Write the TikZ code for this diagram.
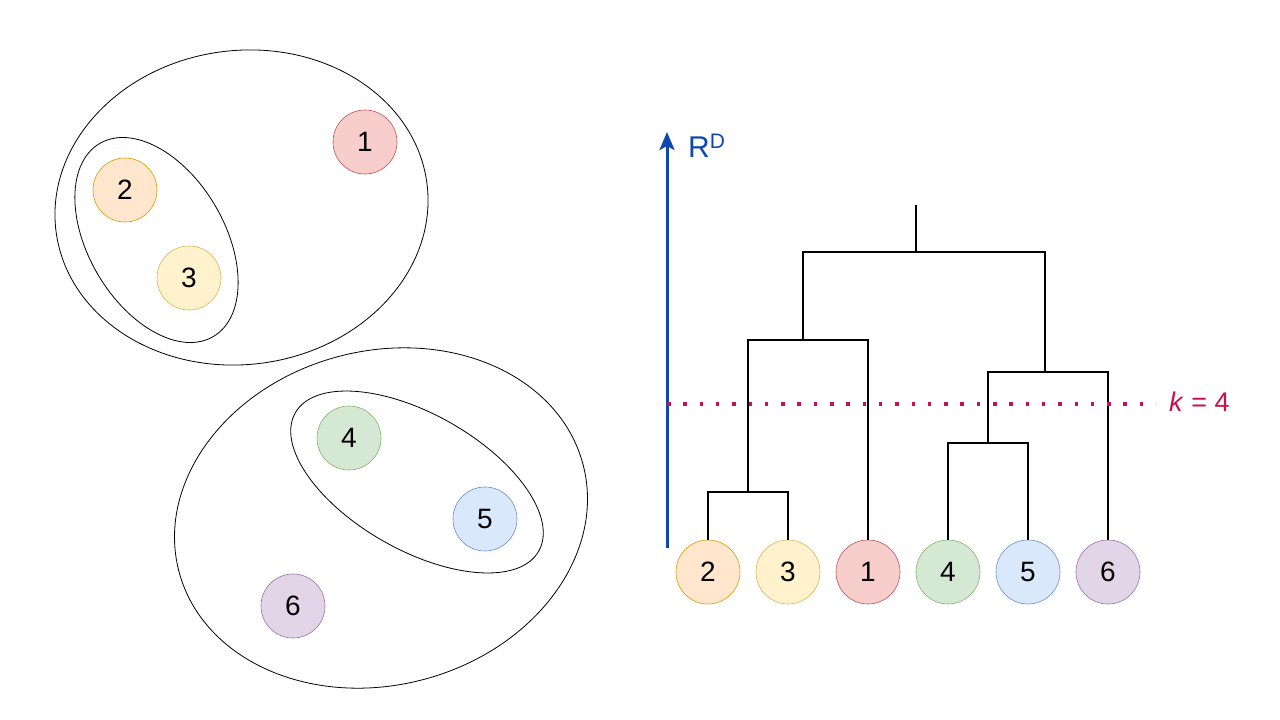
\documentclass[tikz,border=0pt]{standalone}
\usepackage{fontspec}
\setmainfont{Liberation Sans}
\usetikzlibrary{arrows.meta}
\definecolor{f2}{HTML}{FFE6CC}\definecolor{s2}{HTML}{D79B00}
\definecolor{f3}{HTML}{FFF2CC}\definecolor{s3}{HTML}{D6B656}
\definecolor{f1}{HTML}{F8CECC}\definecolor{s1}{HTML}{B85450}
\definecolor{f4}{HTML}{D5E8D4}\definecolor{s4}{HTML}{82B366}
\definecolor{f5}{HTML}{DAE8FC}\definecolor{s5}{HTML}{6C8EBF}
\definecolor{f6}{HTML}{E1D5E7}\definecolor{s6}{HTML}{9673A6}
\definecolor{axisblue}{HTML}{0F47AF}
\definecolor{kred}{HTML}{C8104A}
\tikzset{
  pt/.style={circle,draw=s#1,fill=f#1,line width=0.6pt,minimum size=64pt,inner sep=0pt,font=\fontsize{28}{28}\selectfont},
  grp/.style={draw=black,line width=0.8pt},
  tree/.style={draw=black,line width=2pt},
}
\begin{document}
\begin{tikzpicture}[x=1pt,y=-1pt]
\useasboundingbox (0,0) rectangle (1280,720);
% left scatter
\node[pt=1] (a1) at (365,142) {1};
\node[pt=2] (a2) at (125,190) {2};
\node[pt=3] (a3) at (189,278) {3};
\node[pt=4] (a4) at (349,438) {4};
\node[pt=5] (a5) at (485,519) {5};
\node[pt=6] (a6) at (293,606) {6};
\draw[grp,rotate around={7.5:(241.5,207.5)}] (241.5,207.5) ellipse [x radius=187pt, y radius=157pt];
\draw[grp,rotate around={-59.5:(156.5,240)}] (156.5,240) ellipse [x radius=112pt, y radius=68pt];
\draw[grp,rotate around={15:(381,518)}] (381,518) ellipse [x radius=209pt, y radius=167pt];
\draw[grp,rotate around={-29.6:(417,482)}] (417,482) ellipse [x radius=140pt, y radius=68pt];
% dendrogram leaves
\node[pt=2] (d2) at (708,572) {2};
\node[pt=3] (d3) at (788,572) {3};
\node[pt=1] (d1) at (868,572) {1};
\node[pt=4] (d4) at (948,572) {4};
\node[pt=5] (d5) at (1028,572) {5};
\node[pt=6] (d6) at (1108,572) {6};
\coordinate (m23) at (748,492);
\coordinate (m231) at (803,340);
\coordinate (mtop) at (916,252);
\coordinate (m45) at (988,443);
\coordinate (m456) at (1045,372);
\coordinate (top) at (916,205);
\draw[tree] (d2.north) |- (m23) -| (d3.north);
\draw[tree] (m23) |- (m231) -| (d1.north);
\draw[tree] (d4.north) |- (m45) -| (d5.north);
\draw[tree] (m45) |- (m456) -| (d6.north);
\draw[tree] (m231) |- (mtop) -| (m456);
\draw[tree] (mtop) -- (top);
% axis
\coordinate (ax0) at (667,548);
\coordinate (ax1) at (667,132);
\draw[axisblue,line width=3pt,-{Stealth[length=18pt,width=15pt,inset=4pt]}] (ax0) -- (ax1);
\node[anchor=west,text=axisblue,inner sep=0pt,font=\fontsize{30}{30}\selectfont] (rd) at (688,146) {R\textsuperscript{D}};
% cut line
\coordinate (c0) at (667,404);
\coordinate (c1) at (1156,404);
\draw[kred,line width=3.5pt,dash pattern=on 3.5pt off 12.8pt] (c0) -- (c1);
\node[anchor=west,text=kred,inner sep=0pt,font=\fontsize{27}{27}\selectfont] (k) at (1169,402) {\textit{k} = 4};
\end{tikzpicture}
\end{document}
